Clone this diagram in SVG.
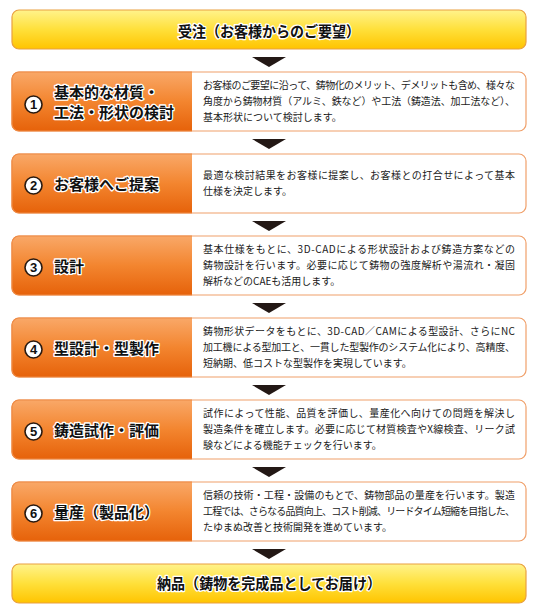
<svg xmlns="http://www.w3.org/2000/svg" width="538" height="611" viewBox="0 0 538 611">
<defs>
<linearGradient id="gy" x1="0" y1="0" x2="0" y2="1">
<stop offset="0" stop-color="#fff38c"/>
<stop offset="0.5" stop-color="#ffe03a"/>
<stop offset="1" stop-color="#ffc400"/>
</linearGradient>
<linearGradient id="go" x1="0" y1="0" x2="0" y2="1">
<stop offset="0" stop-color="#f9a868"/>
<stop offset="0.5" stop-color="#f3852f"/>
<stop offset="1" stop-color="#e6620a"/>
</linearGradient>
<style>
.yb{fill:url(#gy);stroke:#e9a040;stroke-width:1.2}
.ob{fill:#fff;stroke:#f0a06a;stroke-width:1.2}
.op{fill:url(#go)}
.oe{fill:none;stroke:#ee8a44;stroke-width:1.2}
.hd{font-family:"Noto Sans CJK JP","Noto Sans CJK SC",sans-serif;font-weight:bold;font-size:15px;fill:#111;stroke:#fff;stroke-width:2.6;stroke-linejoin:round;paint-order:stroke}
.tt{font-family:"Noto Sans CJK JP","Noto Sans CJK SC",sans-serif;font-weight:bold;font-size:15px;fill:#111;stroke:#fff;stroke-width:2.6;stroke-linejoin:round;paint-order:stroke}
.ds{font-family:"Noto Sans CJK JP","Noto Sans CJK SC",sans-serif;font-size:10px;fill:#1a1a1a}
.ci{fill:#fff;stroke:#2a1a10;stroke-width:1.6}
.nu{font-family:"Liberation Sans",Arial,sans-serif;font-weight:bold;font-size:13px;fill:#111;text-anchor:middle}
.ar{fill:#231815}
</style>
</defs>

<g id="connectors">
<polygon class="ar" points="252,57 286,57 269,67"/>
<polygon class="ar" points="252,139 286,139 269,149"/>
<polygon class="ar" points="252,221 286,221 269,231"/>
<polygon class="ar" points="252,303 286,303 269,313"/>
<polygon class="ar" points="252,385 286,385 269,395"/>
<polygon class="ar" points="252,467 286,467 269,477"/>
<polygon class="ar" points="252,549 286,549 269,559"/>
</g>

<g id="node-start">
<rect class="yb" x="12" y="10" width="514" height="39" rx="7"/>
<text class="hd" x="269" y="37" text-anchor="middle" textLength="182" lengthAdjust="spacingAndGlyphs">受注（お客様からのご要望）</text>
</g>

<g id="node-1">
<rect class="ob" x="12" y="72" width="514" height="59" rx="7"/>
<path class="op" d="M19,72 H192 V131 H19 A7,7 0 0 1 12,124 V79 A7,7 0 0 1 19,72 Z"/>
<path class="oe" d="M192,72 H19 A7,7 0 0 0 12,79 V124 A7,7 0 0 0 19,131 H192"/>
<circle class="ci" cx="33.5" cy="104.5" r="8.5"/>
<text class="nu" x="33.5" y="109">1</text>
<text class="tt" x="54" y="98">基本的な材質・</text>
<text class="tt" x="54" y="118">工法・形状の検討</text>
<text class="ds" x="203" y="88.5" textLength="312" lengthAdjust="spacing">お客様のご要望に沿って、鋳物化のメリット、デメリットも含め、様々な</text>
<text class="ds" x="203" y="104.5" textLength="312" lengthAdjust="spacing">角度から鋳物材質（アルミ、鉄など）や工法（鋳造法、加工法など）、</text>
<text class="ds" x="203" y="120.5">基本形状について検討します。</text>
</g>

<g id="node-2">
<rect class="ob" x="12" y="154" width="514" height="59" rx="7"/>
<path class="op" d="M19,154 H192 V213 H19 A7,7 0 0 1 12,206 V161 A7,7 0 0 1 19,154 Z"/>
<path class="oe" d="M192,154 H19 A7,7 0 0 0 12,161 V206 A7,7 0 0 0 19,213 H192"/>
<circle class="ci" cx="33.5" cy="185.5" r="8.5"/>
<text class="nu" x="33.5" y="190">2</text>
<text class="tt" x="54" y="189.5">お客様へご提案</text>
<text class="ds" x="203" y="178.5" textLength="312" lengthAdjust="spacing">最適な検討結果をお客様に提案し、お客様との打合せによって基本</text>
<text class="ds" x="203" y="194.5">仕様を決定します。</text>
</g>

<g id="node-3">
<rect class="ob" x="12" y="236" width="514" height="59" rx="7"/>
<path class="op" d="M19,236 H192 V295 H19 A7,7 0 0 1 12,288 V243 A7,7 0 0 1 19,236 Z"/>
<path class="oe" d="M192,236 H19 A7,7 0 0 0 12,243 V288 A7,7 0 0 0 19,295 H192"/>
<circle class="ci" cx="33.5" cy="267.5" r="8.5"/>
<text class="nu" x="33.5" y="272">3</text>
<text class="tt" x="54" y="271.5">設計</text>
<text class="ds" x="203" y="252.5" textLength="312" lengthAdjust="spacing">基本仕様をもとに、3D-CADによる形状設計および鋳造方案などの</text>
<text class="ds" x="203" y="268.5" textLength="312" lengthAdjust="spacing">鋳物設計を行います。必要に応じて鋳物の強度解析や湯流れ・凝固</text>
<text class="ds" x="203" y="284.5">解析などのCAEも活用します。</text>
</g>

<g id="node-4">
<rect class="ob" x="12" y="318" width="514" height="59" rx="7"/>
<path class="op" d="M19,318 H192 V377 H19 A7,7 0 0 1 12,370 V325 A7,7 0 0 1 19,318 Z"/>
<path class="oe" d="M192,318 H19 A7,7 0 0 0 12,325 V370 A7,7 0 0 0 19,377 H192"/>
<circle class="ci" cx="33.5" cy="349.5" r="8.5"/>
<text class="nu" x="33.5" y="354">4</text>
<text class="tt" x="54" y="353.5">型設計・型製作</text>
<text class="ds" x="203" y="334.5" textLength="312" lengthAdjust="spacing">鋳物形状データをもとに、3D-CAD／CAMによる型設計、さらにNC</text>
<text class="ds" x="203" y="350.5" textLength="312" lengthAdjust="spacing">加工機による型加工と、一貫した型製作のシステム化により、高精度、</text>
<text class="ds" x="203" y="366.5">短納期、低コストな型製作を実現しています。</text>
</g>

<g id="node-5">
<rect class="ob" x="12" y="400" width="514" height="59" rx="7"/>
<path class="op" d="M19,400 H192 V459 H19 A7,7 0 0 1 12,452 V407 A7,7 0 0 1 19,400 Z"/>
<path class="oe" d="M192,400 H19 A7,7 0 0 0 12,407 V452 A7,7 0 0 0 19,459 H192"/>
<circle class="ci" cx="33.5" cy="431.5" r="8.5"/>
<text class="nu" x="33.5" y="436">5</text>
<text class="tt" x="54" y="435.5">鋳造試作・評価</text>
<text class="ds" x="203" y="416.5" textLength="312" lengthAdjust="spacing">試作によって性能、品質を評価し、量産化へ向けての問題を解決し</text>
<text class="ds" x="203" y="432.5" textLength="312" lengthAdjust="spacing">製造条件を確立します。必要に応じて材質検査やX線検査、リーク試</text>
<text class="ds" x="203" y="448.5">験などによる機能チェックを行います。</text>
</g>

<g id="node-6">
<rect class="ob" x="12" y="482" width="514" height="59" rx="7"/>
<path class="op" d="M19,482 H192 V541 H19 A7,7 0 0 1 12,534 V489 A7,7 0 0 1 19,482 Z"/>
<path class="oe" d="M192,482 H19 A7,7 0 0 0 12,489 V534 A7,7 0 0 0 19,541 H192"/>
<circle class="ci" cx="33.5" cy="513.5" r="8.5"/>
<text class="nu" x="33.5" y="518">6</text>
<text class="tt" x="54" y="517.5">量産（製品化）</text>
<text class="ds" x="203" y="498.5" textLength="312" lengthAdjust="spacing">信頼の技術・工程・設備のもとで、鋳物部品の量産を行います。製造</text>
<text class="ds" x="203" y="514.5" textLength="312" lengthAdjust="spacing">工程では、さらなる品質向上、コスト削減、リードタイム短縮を目指した、</text>
<text class="ds" x="203" y="530.5">たゆまぬ改善と技術開発を進めています。</text>
</g>

<g id="node-end">
<rect class="yb" x="12" y="564" width="514" height="39" rx="7"/>
<text class="hd" x="269" y="589" text-anchor="middle" textLength="224" lengthAdjust="spacingAndGlyphs">納品（鋳物を完成品としてお届け）</text>
</g>
</svg>
